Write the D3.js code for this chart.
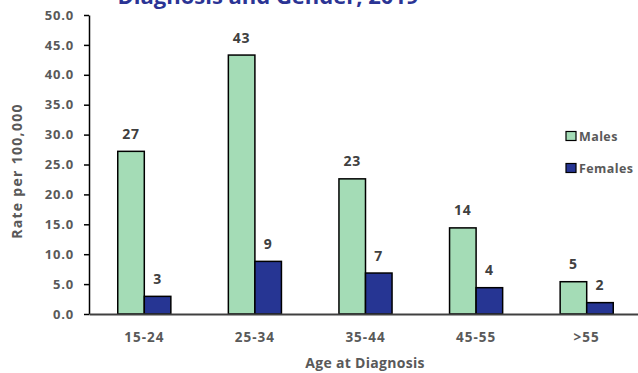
<!DOCTYPE html>
<html>
<head>
<meta charset="utf-8">
<script src="https://cdn.jsdelivr.net/npm/d3@7"></script>
<style>
  html, body { margin: 0; padding: 0; background: #fff; }
  svg { display: block; font-family: "Open Sans", Lato, sans-serif; }
</style>
</head>
<body>
<svg id="chart" width="638" height="373"></svg>
<script>
// Age groups and rates per 100,000
const ageGroups = ["15-24", "25-34", "35-44", "45-55", ">55"];
const seriesNames = ["Males", "Females"];
const males = [27.2, 43.3, 22.6, 14.4, 5.4];
const females = [2.95, 8.8, 6.85, 4.4, 1.9];
const yTicks = [0, 5, 10, 15, 20, 25, 30, 35, 40, 45, 50];
const colors = { Males: "#a4dcb6", Females: "#263593" };

const rows = ageGroups.map((g, i) => ({ group: g, Males: males[i], Females: females[i] }));

const svg = d3.select("#chart");
const FONT = "'Open Sans', Lato, sans-serif";

const x = d3.scaleBand().domain(ageGroups).range([89, 642]).paddingInner(0.52).paddingOuter(0.26);
const xInner = d3.scaleBand().domain(seriesNames).range([0, x.bandwidth()]);
const y = d3.scaleLinear().domain([0, 50]).range([314, 15]);

// title (second line of a wrapped heading)
svg.append("text")
  .attr("x", 268).attr("y", 4)
  .attr("text-anchor", "middle")
  .attr("font-size", 22).attr("font-weight", 700)
  .attr("fill", "#2b3494")
  .text("Diagnosis and Gender, 2019");

// y axis
const yAxis = svg.append("g")
  .attr("transform", "translate(89,0)")
  .call(d3.axisLeft(y).tickValues(yTicks).tickFormat(d3.format(".1f")).tickSize(5).tickPadding(10).tickSizeOuter(0));
yAxis.select(".domain").attr("stroke", "#000").attr("stroke-width", 1.5);
yAxis.selectAll(".tick line").attr("stroke", "#000").attr("stroke-width", 1.5);
yAxis.selectAll(".tick text")
  .attr("font-size", 13).attr("font-weight", 700).attr("fill", "#595959")
  .attr("letter-spacing", 0.8)
  .attr("font-family", FONT);

// bars
const groups = svg.append("g").selectAll("g")
  .data(rows).join("g")
  .attr("transform", d => `translate(${x(d.group)},0)`);

groups.selectAll("rect")
  .data(d => seriesNames.map(s => ({ key: s, value: d[s] })))
  .join("rect")
  .attr("x", d => xInner(d.key))
  .attr("y", d => y(d.value))
  .attr("width", xInner.bandwidth())
  .attr("height", d => y(0) - y(d.value))
  .attr("fill", d => colors[d.key])
  .attr("stroke", "#000")
  .attr("stroke-width", 1.5);

groups.selectAll("text.val")
  .data(d => seriesNames.map(s => ({ key: s, value: d[s] })))
  .join("text")
  .attr("class", "val")
  .attr("x", d => xInner(d.key) + xInner.bandwidth() / 2)
  .attr("y", d => y(d.value) - 12.5)
  .attr("text-anchor", "middle")
  .attr("font-size", 14).attr("font-weight", 700)
  .attr("letter-spacing", 0.8)
  .attr("fill", "#404040")
  .text(d => d3.format(".0f")(d.value));

// x axis
const xAxis = svg.append("g")
  .attr("transform", `translate(0,${y(0)})`)
  .call(d3.axisBottom(x).tickSize(0).tickPadding(18).tickSizeOuter(0));
xAxis.select(".domain").attr("stroke", "#404040").attr("stroke-width", 2);
xAxis.selectAll(".tick text")
  .attr("font-size", 13.5).attr("font-weight", 700).attr("fill", "#595959")
  .attr("letter-spacing", 1)
  .attr("font-family", FONT);

// axis titles
svg.append("text")
  .attr("x", 365).attr("y", 368)
  .attr("text-anchor", "middle")
  .attr("font-size", 14).attr("font-weight", 700).attr("fill", "#595959")
  .attr("letter-spacing", 0.3)
  .text("Age at Diagnosis");

svg.append("text")
  .attr("transform", "translate(22,171) rotate(-90)")
  .attr("text-anchor", "middle")
  .attr("font-size", 14).attr("font-weight", 700).attr("fill", "#595959")
  .attr("letter-spacing", 1.3)
  .text("Rate per 100,000");

// legend
const legend = svg.append("g").selectAll("g")
  .data(seriesNames).join("g")
  .attr("transform", (d, i) => `translate(566,${131.5 + i * 32})`);
legend.append("rect")
  .attr("width", 10).attr("height", 9)
  .attr("fill", d => colors[d])
  .attr("stroke", "#000").attr("stroke-width", 1.2);
legend.append("text")
  .attr("x", 13).attr("y", 9)
  .attr("font-size", 12.5).attr("font-weight", 700).attr("fill", "#595959")
  .attr("letter-spacing", 0.4)
  .text(d => d);
</script>
</body>
</html>
